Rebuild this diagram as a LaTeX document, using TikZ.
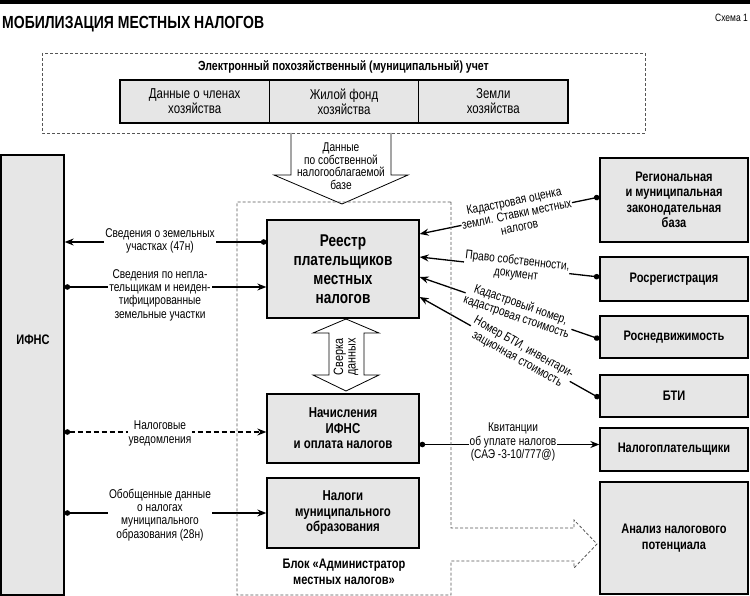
\documentclass[tikz,border=0pt]{standalone}
\usepackage{fontspec}
\setmainfont{Liberation Sans}[FakeStretch=0.8]
\usetikzlibrary{arrows.meta,calc}
\definecolor{boxgray}{HTML}{E6E6E6}
\definecolor{dashgray}{HTML}{555555}
\newcommand{\fLbl}{\fontsize{12.7}{13.3}\selectfont}
\newcommand{\fHol}{\fontsize{12.7}{12.5}\selectfont}
\newcommand{\fBx}{\bfseries\fontsize{13.8}{15.5}\selectfont}
\newcommand{\fMid}{\bfseries\fontsize{14.3}{15.5}\selectfont}
\newcommand{\fBig}{\bfseries\fontsize{17}{19}\selectfont}
\newcommand{\fTop}{\fontsize{14.3}{15}\selectfont}
\begin{document}
\begin{tikzpicture}[x=1pt,y=-1pt,
  bx/.style={draw=black, fill=boxgray, line width=1.3pt, align=center, inner sep=0pt},
  lbl/.style={fill=white, align=center, inner sep=1pt, font=\fLbl},
  conn/.style={line width=1.3pt, draw=black},
  dotarr/.style={conn, {Circle[length=5.5pt]}-{Stealth[length=9pt,width=7pt]}},
  dbox/.style={draw=dashgray, line width=0.8pt, dash pattern=on 3pt off 2pt},
  hollow/.style={draw=black, fill=white, line width=0.8pt},
]
\useasboundingbox (0,0) rectangle (750,596);
\fill[black] (0,0) rectangle (750,4.5);

\node[anchor=west, inner sep=0pt, font=\bfseries\fontsize{17.5}{18}\selectfont] (title) at (2,24) {МОБИЛИЗАЦИЯ МЕСТНЫХ НАЛОГОВ};
\node[anchor=east, inner sep=0pt, font=\fontsize{10.6}{12}\selectfont] (schema) at (748,18) {Схема 1};

% top record block
\node[font=\bfseries\fontsize{13.2}{14}\selectfont] (uchet) at (343.5,67) {Электронный похозяйственный (муниципальный) учет};
\node[bx, minimum width=149.3pt, minimum height=43pt, font=\fTop] (d1) at (194.7,101.5) {Данные о членах\\хозяйства};
\node[bx, minimum width=149.3pt, minimum height=43pt, font=\fTop] (d2) at (344,101.5) {Жилой фонд\\хозяйства};
\node[bx, minimum width=149.3pt, minimum height=43pt, font=\fTop] (d3) at (493.3,101.5) {Земли\\хозяйства};

% hollow arrow down
\filldraw[hollow] (291,133) -- (291,175) -- (274,175) -- (342,204) -- (408,175) -- (391,175) -- (391,133);
\node[align=center, font=\fHol, inner sep=0pt] (dannye) at (341,166) {Данные\\по собственной\\налогооблагаемой\\базе};

% left IFNS
\node[bx, minimum width=63pt, minimum height=440pt] (ifns) at (32.5,375) {};
\node[font=\fBx] (ifnst) at (33,340) {ИФНС};

% central boxes
\node[bx, minimum width=152pt, minimum height=98pt, font=\fBig] (reestr) at (343,269) {Реестр\\плательщиков\\местных\\налогов};
\node[bx, minimum width=152pt, minimum height=69pt, font=\fMid] (nach) at (343,428.5) {Начисления\\ИФНС\\и оплата налогов};
\node[bx, minimum width=152pt, minimum height=70pt, font=\fMid] (nalogi) at (343,513) {Налоги\\муниципального\\образования};
\node[align=center, font=\fBx] (blok) at (344,572) {Блок «Администратор\\местных налогов»};

% double hollow arrow
\filldraw[hollow] (346,319) -- (379,333) -- (364,333) -- (364,375) -- (379,375) -- (346,391) -- (313,375) -- (329,375) -- (329,333) -- (313,333) -- cycle;
\node[rotate=90, align=center, font=\fontsize{13.5}{12.5}\selectfont, inner sep=0pt] (sverka) at (346,357) {Сверка\\данных};

% right boxes
\node[bx, minimum width=148pt, minimum height=84pt, font=\fBx] (reg) at (674,200) {Региональная\\и муниципальная\\законодательная\\база};
\node[bx, minimum width=148pt, minimum height=44pt, font=\fBx] (rosreg) at (674,279) {Росрегистрация};
\node[bx, minimum width=148pt, minimum height=42pt, font=\fBx] (rosned) at (674,337) {Роснедвижимость};
\node[bx, minimum width=148pt, minimum height=42pt, font=\fBx] (bti) at (674,396) {БТИ};
\node[bx, minimum width=148pt, minimum height=43pt, font=\fBx] (nalpl) at (674,449.5) {Налогоплательщики};
\node[bx, minimum width=148pt, minimum height=112pt, font=\fBx] (analiz) at (674,538) {Анализ налогового\\потенциала};

% left connectors
\coordinate (r1) at ([yshift=27pt]reestr.west);
\coordinate (r2) at ([yshift=-18pt]reestr.west);
\coordinate (n1) at ([yshift=-3.5pt]nach.west);
\draw[dotarr] (r1) -- (ifns.east |- r1);
\draw[dotarr] (ifns.east |- r2) -- (r2);
\draw[dotarr, dash pattern=on 5pt off 3pt] (ifns.east |- n1) -- (n1);
\draw[dotarr] (ifns.east |- nalogi.west) -- (nalogi.west);
\node[lbl] (l1) at (160,241) {Сведения о земельных\\участках (47н)};
\node[lbl] (l2) at (160,295) {Сведения по непла-\\тельщикам и неиден-\\тифицированные\\земельные участки};
\node[lbl] (l3) at (160,433.5) {Налоговые\\уведомления};
\node[lbl] (l4) at (160,515) {Обобщенные данные\\о налогах\\муниципального\\образования (28н)};

% right connectors
\draw[dotarr] ([yshift=3pt]reg.west) -- node[lbl, sloped, pos=0.46, inner sep=0.5pt] (k1) {Кадастровая оценка\\земли. Ставки местных\\налогов} ([yshift=35pt]reestr.east);
\draw[dotarr] ([yshift=2pt]rosreg.west) -- node[lbl, sloped, pos=0.46, inner sep=0.5pt] (k2) {Право собственности,\\документ} ([yshift=12pt]reestr.east);
\draw[dotarr] ([yshift=-2pt]rosned.west) -- node[lbl, sloped, pos=0.45, inner sep=0.5pt] (k3) {Кадастровый номер,\\кадастровая стоимость} ([yshift=-8pt]reestr.east);
\draw[dotarr] ([yshift=-2pt]bti.west) -- node[lbl, sloped, pos=0.44, inner sep=0.5pt] (k4) {Номер БТИ, инвентари-\\зационная стоимость} ([yshift=-28pt]reestr.east);

% receipts
\coordinate (kv) at ([yshift=-16pt]nach.east);
\draw[dotarr] (kv) -- (nalpl.west |- kv);
\node[lbl] (kvl) at (513,442) {Квитанции\\об уплате налогов\\(САЭ -3-10/777@)};

% dashed outlines
\draw[dbox] (42,53) rectangle (645,133);
\draw[dbox] (451,202) -- (451,528) -- (574,528) -- (574,520) -- (597,544) -- (574,568) -- (574,561) -- (451,561) -- (451,595) -- (237,595) -- (237,202) -- cycle;
\end{tikzpicture}
\end{document}
